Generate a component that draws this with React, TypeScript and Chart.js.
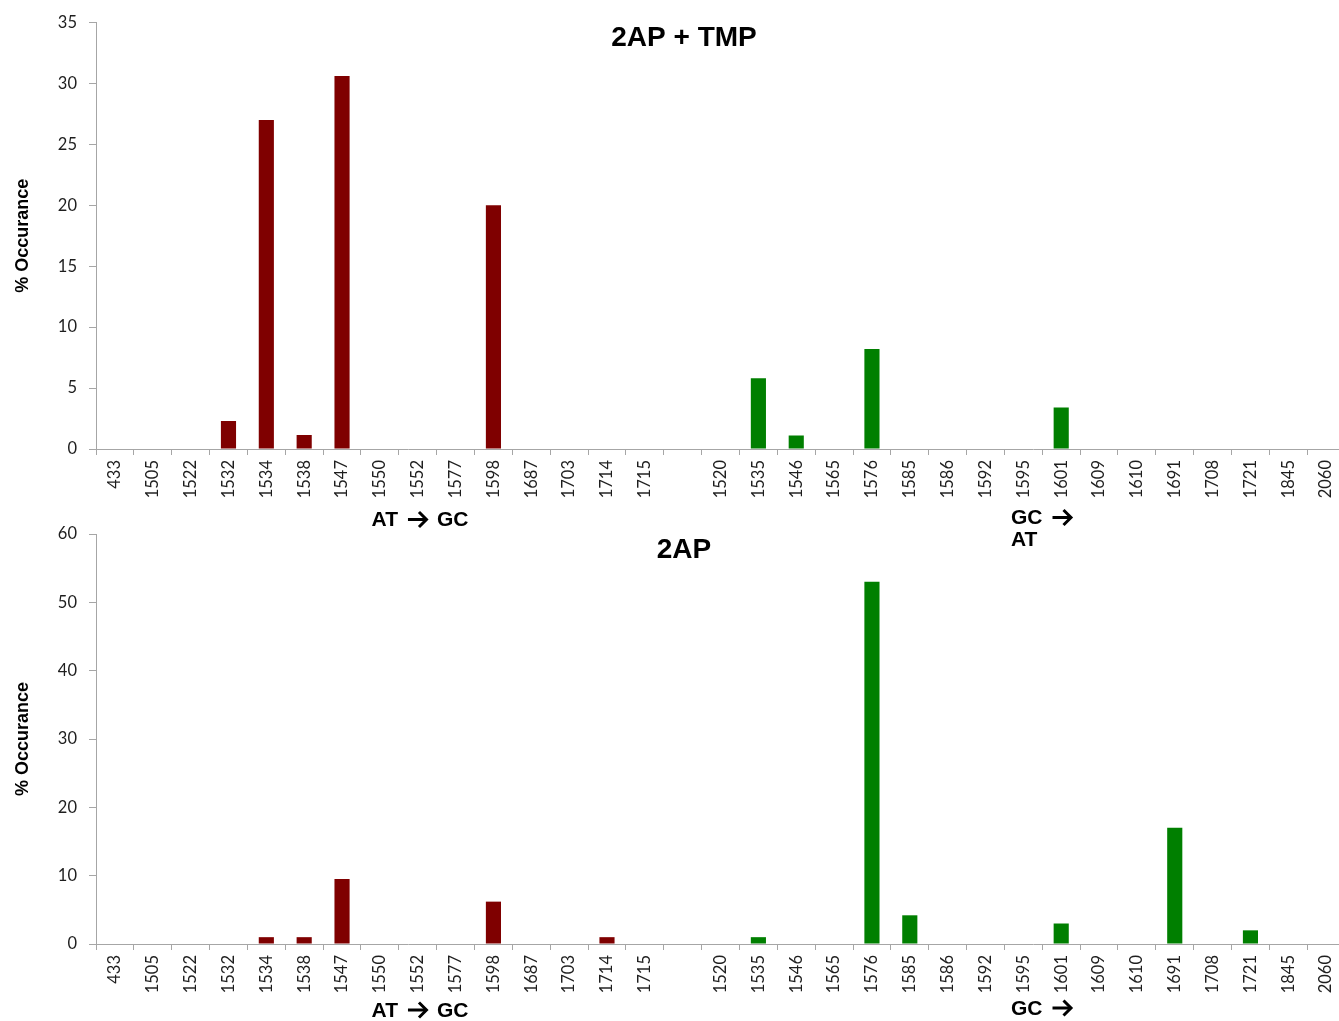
import React, { useEffect, useRef } from 'react';
import { Chart, registerables } from 'chart.js';

Chart.register(...registerables);

// ---- data ----
const atGcSites = ['433', '1505', '1522', '1532', '1534', '1538', '1547', '1550', '1552', '1577', '1598', '1687', '1703', '1714', '1715'];
const gcAtSites = ['1520', '1535', '1546', '1565', '1576', '1585', '1586', '1592', '1595', '1601', '1609', '1610', '1691', '1708', '1721', '1845', '2060'];

const tmpAtGc = [0, 0, 0, 2.3, 27, 1.15, 30.6, 0, 0, 0, 20, 0, 0, 0, 0];
const tmpGcAt = [0, 5.8, 1.1, 0, 8.2, 0, 0, 0, 0, 3.4, 0, 0, 0, 0, 0, 0, 0];

const apAtGc = [0, 0, 0, 0, 1, 1, 9.5, 0, 0, 0, 6.2, 0, 0, 1, 0];
const apGcAt = [0, 1, 0, 0, 53, 4.2, 0, 0, 0, 3, 0, 0, 17, 0, 2, 0, 0];

const tmpTitle = '2AP + TMP';
const apTitle = '2AP';
const yAxisTitle = '% Occurance';
const atGcLabel = ['AT \u2192 GC'];
const gcAtLabelTop = ['GC \u2192', 'AT'];
const gcAtLabelBottom = ['GC \u2192'];

// ---- styling ----
const RED = '#7f0000';
const GREEN = '#007f00';
const AXIS = '#a6a6a6';
const TICK_COLOR = '#1e1e1e';
const TICK_FONT = { family: 'Lato, "Liberation Sans", sans-serif', size: 16.5 };
const W = 1339;
const CANVAS_W = 1351; // plot runs slightly past the visible right edge, as in the original
const LABEL_FONT = 'bold 21px "Liberation Sans", Arial, sans-serif';

const labels = [...atGcSites, '', ...gcAtSites];
const colors = [...atGcSites.map(() => RED), RED, ...gcAtSites.map(() => GREEN)];

function drawArrow(ctx: CanvasRenderingContext2D, x: number, y: number) {
  ctx.save();
  ctx.strokeStyle = '#000';
  ctx.lineWidth = 3;
  ctx.lineCap = 'butt';
  ctx.lineJoin = 'miter';
  ctx.beginPath();
  ctx.moveTo(x, y);
  ctx.lineTo(x + 18, y);
  ctx.stroke();
  ctx.beginPath();
  ctx.moveTo(x + 11, y - 7.5);
  ctx.lineTo(x + 18.5, y);
  ctx.lineTo(x + 11, y + 7.5);
  ctx.stroke();
  ctx.restore();
}

function drawArrowText(ctx: CanvasRenderingContext2D, text: string, x: number, y: number, align: 'center' | 'left') {
  ctx.font = LABEL_FONT;
  ctx.textAlign = 'left';
  ctx.textBaseline = 'middle';
  const parts = text.split('\u2192');
  if (parts.length === 1) {
    const w = ctx.measureText(text).width;
    ctx.fillText(text, align === 'center' ? x - w / 2 : x, y);
    return;
  }
  const left = parts[0].trim();
  const right = parts[1].trim();
  const wl = ctx.measureText(left).width;
  const wr = right ? ctx.measureText(right).width : 0;
  const arrowW = 20;
  const total = wl + 10 + arrowW + (right ? 9 + wr : 0);
  let cx = align === 'center' ? x - total / 2 : x;
  ctx.fillText(left, cx, y);
  cx += wl + 10;
  drawArrow(ctx, cx, y - 1);
  cx += arrowW + 9;
  if (right) ctx.fillText(right, cx, y);
}

const textPlugin = {
  id: 'panelText',
  afterDraw(chart: any, _args: any, opts: any) {
    const ctx = chart.ctx as CanvasRenderingContext2D;
    const a = chart.chartArea;
    ctx.save();
    ctx.fillStyle = '#000';
    ctx.textAlign = 'center';
    ctx.textBaseline = 'middle';
    ctx.font = 'bold 28px "Liberation Sans", Arial, sans-serif';
    ctx.fillText(opts.title, 684, opts.titleY);

    opts.atGc.forEach((t: string, i: number) => drawArrowText(ctx, t, 420, opts.arrowY + i * 22, 'center'));
    opts.gcAt.forEach((t: string, i: number) => drawArrowText(ctx, t, 1011, opts.arrowY - 2 + i * 21.5, 'left'));

    ctx.translate(23, (a.top + a.bottom) / 2);
    ctx.rotate(-Math.PI / 2);
    ctx.textAlign = 'center';
    ctx.textBaseline = 'middle';
    ctx.font = 'bold 18px "Liberation Sans", Arial, sans-serif';
    ctx.fillText(yAxisTitle, 0, 0);
    ctx.restore();
  },
};

type PanelProps = {
  top: number;
  height: number;
  chartTop: number;
  chartBottom: number;
  values: (number | null)[];
  yMax: number;
  yStep: number;
  title: string;
  titleY: number;
  arrowY: number;
  atGc: string[];
  gcAt: string[];
};

function Panel(p: PanelProps) {
  const ref = useRef<HTMLCanvasElement>(null);
  useEffect(() => {
    const chart = new Chart(ref.current as HTMLCanvasElement, {
      type: 'bar',
      data: {
        labels,
        datasets: [
          {
            data: p.values,
            backgroundColor: colors,
            borderWidth: 0,
            barPercentage: 0.4,
            categoryPercentage: 1,
          },
        ],
      },
      options: {
        animation: false,
        responsive: false,
        maintainAspectRatio: false,
        layout: { padding: { top: p.chartTop, right: 2.5, left: 0, bottom: 0 } },
        plugins: {
          legend: { display: false },
          tooltip: { enabled: false },
          title: { display: false },
          panelText: {
            title: p.title,
            titleY: p.titleY,
            arrowY: p.arrowY,
            atGc: p.atGc,
            gcAt: p.gcAt,
          },
        } as any,
        scales: {
          x: {
            grid: { display: true, drawOnChartArea: false, drawTicks: true, tickLength: 6, color: AXIS, offset: true },
            border: { display: true, color: AXIS, width: 1 },
            ticks: { autoSkip: false, minRotation: 90, maxRotation: 90, padding: 5, font: TICK_FONT, color: TICK_COLOR },
            afterFit: (s: any) => {
              s.height = p.height - p.chartBottom;
            },
          },
          y: {
            min: 0,
            max: p.yMax,
            grid: { display: true, drawOnChartArea: false, drawTicks: true, tickLength: 7, color: AXIS },
            border: { display: true, color: AXIS, width: 1 },
            ticks: { stepSize: p.yStep, padding: 12, font: TICK_FONT, color: TICK_COLOR },
            afterFit: (s: any) => {
              s.width = 96;
            },
          },
        },
      },
      plugins: [textPlugin as any],
    });
    return () => chart.destroy();
  }, []);
  return (
    <canvas
      ref={ref}
      width={CANVAS_W}
      height={p.height}
      style={{ position: 'absolute', left: 0, top: p.top, display: 'block' }}
    />
  );
}

export default function App() {
  return (
    <div style={{ position: 'fixed', left: 0, top: 0, width: W, height: 1021, background: '#fff', overflow: 'hidden' }}>
      <Panel
        top={0}
        height={560}
        chartTop={22.5}
        chartBottom={449}
        values={[...tmpAtGc, null, ...tmpGcAt]}
        yMax={35}
        yStep={5}
        title={tmpTitle}
        titleY={38}
        arrowY={520.5}
        atGc={atGcLabel}
        gcAt={gcAtLabelTop}
      />
      <Panel
        top={500}
        height={521}
        chartTop={34}
        chartBottom={444}
        values={[...apAtGc, null, ...apGcAt]}
        yMax={60}
        yStep={10}
        title={apTitle}
        titleY={50}
        arrowY={511}
        atGc={atGcLabel}
        gcAt={gcAtLabelBottom}
      />
    </div>
  );
}
